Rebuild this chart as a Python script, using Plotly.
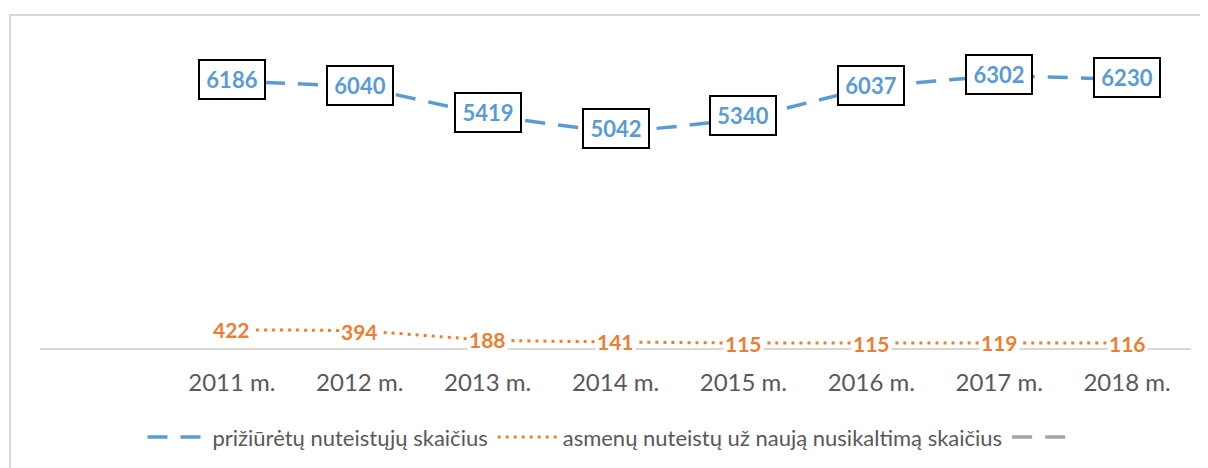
import plotly.graph_objects as go

years = ["2011 m.", "2012 m.", "2013 m.", "2014 m.", "2015 m.", "2016 m.", "2017 m.", "2018 m."]
supervised = [6186, 6040, 5419, 5042, 5340, 6037, 6302, 6230]
reconvicted = [422, 394, 188, 141, 115, 115, 119, 116]
third = [None] * len(years)

name_blue = "prižiūrėtų nuteistųjų skaičius"
name_orange = "asmenų nuteistų už naują nusikaltimą skaičius"
name_gray = " "

BLUE = "#5B9BD5"
ORANGE = "#ED7D31"
GRAY = "#A5A5A5"
FONT = "Lato"

xpos = list(range(1, len(years) + 1))

fig = go.Figure()
fig.add_trace(go.Scatter(x=xpos, y=supervised, mode="lines", name=name_blue,
                         line=dict(color=BLUE, width=3.5, dash="20px,13px", shape="spline", smoothing=0.6)))
fig.add_trace(go.Scatter(x=xpos, y=reconvicted, mode="lines", name=name_orange,
                         line=dict(color=ORANGE, width=3, dash="3px,5px", shape="spline", smoothing=0.6)))
fig.add_trace(go.Scatter(x=xpos, y=third, mode="lines", name=name_gray,
                         line=dict(color=GRAY, width=3.5, dash="20px,13px")))

annotations = []
for x, v in zip(xpos, supervised):
    annotations.append(dict(x=x, y=v, text=f"<b>{v}</b>", showarrow=False, xref="x", yref="y",
                            font=dict(family=FONT, size=22, color=BLUE),
                            bgcolor="white", bordercolor="black", borderwidth=2, borderpad=2,
                            width=60, height=33, yshift=2))
for x, v in zip(xpos, reconvicted):
    annotations.append(dict(x=x, y=v, text=f"<b>{v}</b>", showarrow=False, xref="x", yref="y",
                            font=dict(family=FONT, size=21, color=ORANGE),
                            bgcolor="white", borderpad=1))

PW = 1151
PH = 308
fig.update_layout(
    width=1208, height=468,
    margin=dict(l=32, r=25, t=32, b=128),
    paper_bgcolor="white", plot_bgcolor="white",
    showlegend=True,
    legend=dict(orientation="h", x=0.5, xanchor="center", y=-0.29, yanchor="middle",
                font=dict(family=FONT, size=22, color="#595959"), itemwidth=60,
                entrywidthmode="pixels"),
    xaxis=dict(range=[-0.5, 8.5], tickvals=xpos, ticktext=years, showgrid=False, zeroline=False,
               showline=True, linecolor="#D9D9D9", linewidth=2, ticks="",
               tickfont=dict(family=FONT, size=24, color="#595959"), ticklabelstandoff=12),
    yaxis=dict(range=[0, 7150], visible=False, showgrid=False, zeroline=False),
    annotations=annotations,
    shapes=[dict(type="rect", xref="paper", yref="paper",
                 x0=(2 - 32) / PW, x1=1.2, y0=-1, y1=(340 - 7) / PH,
                 line=dict(color="#D9D9D9", width=2), layer="below")],
)

fig.write_html("out.html")
